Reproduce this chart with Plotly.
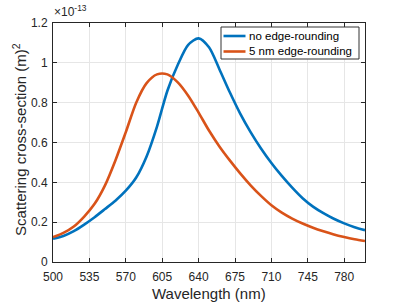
import plotly.graph_objects as go

wl = [500, 510, 520, 530, 540, 550, 560, 570, 580, 590, 600, 610, 620, 630, 640, 650, 660, 670, 680, 690,
      700, 710, 720, 730, 740, 750, 760, 770, 780, 790, 800]
val_blue = [0.117, 0.131, 0.155, 0.188, 0.225, 0.266, 0.308, 0.358, 0.424, 0.530, 0.680, 0.860, 0.990, 1.090, 1.123,
            1.078, 0.968, 0.852, 0.745, 0.652, 0.570, 0.497, 0.432, 0.373, 0.320, 0.278, 0.245, 0.217, 0.194, 0.175, 0.160]
val_orange = [0.125, 0.146, 0.178, 0.228, 0.292, 0.385, 0.510, 0.652, 0.800, 0.898, 0.942, 0.942, 0.902, 0.835, 0.750,
              0.660, 0.580, 0.510, 0.445, 0.385, 0.332, 0.285, 0.248, 0.218, 0.193, 0.172, 0.154, 0.138, 0.125, 0.114, 0.105]

series_names = ["no edge-rounding", "5 nm edge-rounding"]
series_colors = ["#0072BD", "#D95319"]

x_ticks = [500, 535, 570, 605, 640, 675, 710, 745, 780]
y_ticks = [0, 0.2, 0.4, 0.6, 0.8, 1.0, 1.2]
y_tick_labels = ["0", "0.2", "0.4", "0.6", "0.8", "1", "1.2"]

FONT = "Liberation Sans, Arial, sans-serif"
AX = "#262626"

W, H = 403, 302
L, R, T, B = 53, 38, 23, 40
PW, PH = W - L - R, H - T - B


def px_to_paper_x(px):
    return (px - L) / PW


def px_to_paper_y(py):
    return (H - B - py) / PH


fig = go.Figure()
for vals, name, col in zip([val_blue, val_orange], series_names, series_colors):
    fig.add_trace(go.Scatter(x=wl, y=vals, mode="lines", name=name, showlegend=False,
                             line=dict(color=col, width=2.6, shape="spline", smoothing=0.8)))

axis_common = dict(showline=True, linecolor=AX, linewidth=1, mirror="ticks", ticks="inside",
                   ticklen=4, tickcolor=AX, showgrid=True, gridcolor="#e6e6e6", gridwidth=1,
                   zeroline=False, automargin=False, tickfont=dict(family=FONT, size=12, color=AX))

fig.update_xaxes(range=[500, 800], tickvals=x_ticks, ticklabelstandoff=4, **axis_common)
fig.update_yaxes(range=[0, 1.2], tickvals=y_ticks, ticktext=y_tick_labels, ticklabelstandoff=2, **axis_common)

# axis titles
fig.add_annotation(x=0.5, y=px_to_paper_y(293), xref="paper", yref="paper", xanchor="center", yanchor="middle",
                   text="Wavelength (nm)", showarrow=False, font=dict(family=FONT, size=15, color=AX))
fig.add_annotation(x=px_to_paper_x(19), y=px_to_paper_y(140), xref="paper", yref="paper", xanchor="center",
                   yanchor="middle", textangle=-90, text="Scattering cross-section (m)<sup>2</sup>",
                   showarrow=False, font=dict(family=FONT, size=15, color=AX))

# exponent label
fig.add_annotation(x=px_to_paper_x(52), y=px_to_paper_y(21), xref="paper", yref="paper", xanchor="left",
                   yanchor="bottom", text="×10<sup>-13</sup>", showarrow=False,
                   font=dict(family=FONT, size=12, color=AX))

# legend (drawn manually to match the compact box)
lx0, lx1, ly0, ly1 = 221, 359, 27, 59
fig.add_shape(type="rect", xref="paper", yref="paper",
              x0=px_to_paper_x(lx0), x1=px_to_paper_x(lx1), y0=px_to_paper_y(ly1), y1=px_to_paper_y(ly0),
              line=dict(color="#333333", width=1), fillcolor="white", layer="above")
for i, (name, col) in enumerate(zip(series_names, series_colors)):
    yy = 36 + i * 15.5
    fig.add_shape(type="line", xref="paper", yref="paper",
                  x0=px_to_paper_x(223.5), x1=px_to_paper_x(245.5),
                  y0=px_to_paper_y(yy), y1=px_to_paper_y(yy),
                  line=dict(color=col, width=2.6), layer="above")
    fig.add_annotation(x=px_to_paper_x(247), y=px_to_paper_y(yy), xref="paper", yref="paper",
                       xanchor="left", yanchor="middle", text=name, showarrow=False,
                       font=dict(family=FONT, size=11.5, color="#000000"))

fig.update_layout(
    width=W, height=H,
    margin=dict(l=L, r=R, t=T, b=B),
    paper_bgcolor="white", plot_bgcolor="white",
    font=dict(family=FONT, color=AX),
    showlegend=False,
)

fig.write_html("out.html", config={"displayModeBar": False},
               post_script="document.body.style.margin='0px';document.body.style.overflow='hidden';")
